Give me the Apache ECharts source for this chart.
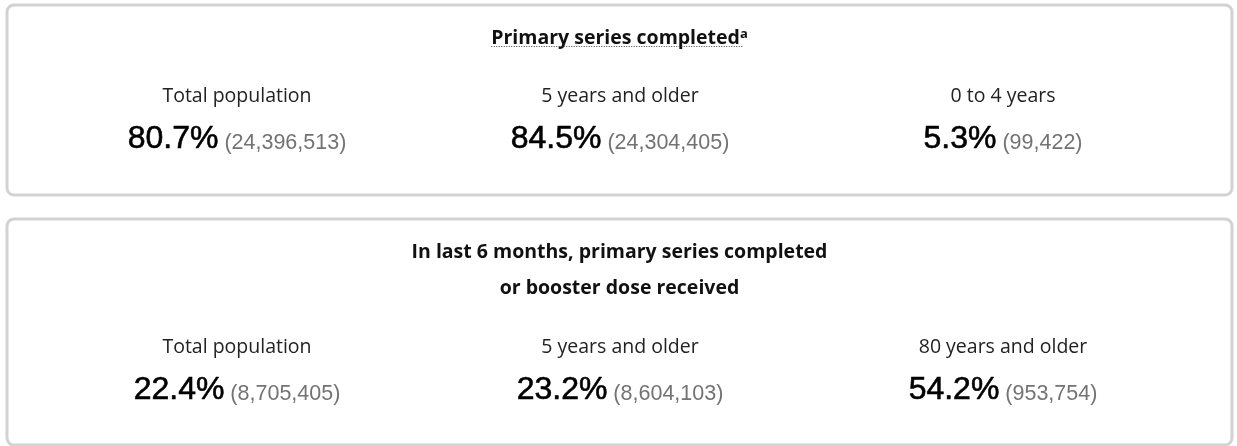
<!DOCTYPE html>
<html lang="en">
<head>
    <meta charset="UTF-8">
    <title>Vaccination summary</title>
    <style>
        * { margin: 0; padding: 0; }
        body { background: #fff; }
        #main { width: 1237px; height: 446px; }
    </style>
    <script src="https://cdn.jsdelivr.net/npm/echarts@6/dist/echarts.min.js"></script>
</head>
<body>
<div id="main"></div>
<script>
    // card headings
    var cardTitles = [
        ['Primary series completed'],
        ['In last 6 months, primary series completed', 'or booster dose received']
    ];
    var cardNotes = ['a', ''];
    // group labels per card
    var groupLabels = [
        ['Total population', '5 years and older', '0 to 4 years'],
        ['Total population', '5 years and older', '80 years and older']
    ];
    var percents = [
        [80.7, 84.5, 5.3],
        [22.4, 23.2, 54.2]
    ];
    var counts = [
        [24396513, 24304405, 99422],
        [8705405, 8604103, 953754]
    ];

    var myChart = echarts.init(document.getElementById('main'));

    var measure = document.createElement('canvas').getContext('2d');
    function textWidth(str, font) {
        measure.font = font;
        return measure.measureText(str).width;
    }
    function fmt(n) {
        return String(n).replace(/\B(?=(\d{3})+(?!\d))/g, ',');
    }

    var cardLeft = 7, cardRight = 1232;
    var cards = [
        { top: 5, bottom: 195, titleY: [38], labelY: 96, valueY: 139 },
        { top: 219, bottom: 445, titleY: [252, 288], labelY: 347, valueY: 390 }
    ];
    var colX = [237, 620, 1003];
    var midX = (cardLeft + cardRight) / 2;
    var titleSize = 19.5, noteSize = 13;

    var elements = [];
    cards.forEach(function (card, i) {
        elements.push({
            type: 'rect',
            shape: { x: cardLeft, y: card.top, width: cardRight - cardLeft, height: card.bottom - card.top, r: 7 },
            style: { fill: '#fff', stroke: '#d2d2d2', lineWidth: 3 }
        });
        cardTitles[i].forEach(function (line, j) {
            var w = textWidth(line, 'bold ' + titleSize + 'px "Open Sans"');
            var noteW = cardNotes[i] ? textWidth(cardNotes[i], 'bold ' + noteSize + 'px "Open Sans"') : 0;
            var x0 = midX - (w + noteW) / 2;
            elements.push({
                type: 'text',
                x: x0,
                y: card.titleY[j],
                style: {
                    text: cardNotes[i] ? '{t|' + line + '}{s|' + cardNotes[i] + '}' : '{t|' + line + '}',
                    align: 'left',
                    verticalAlign: 'middle',
                    rich: {
                        t: { fontFamily: 'Open Sans', fontWeight: 'bold', fontSize: titleSize, fill: '#111' },
                        s: { fontFamily: 'Open Sans', fontWeight: 'bold', fontSize: noteSize, fill: '#111', verticalAlign: 'top' }
                    }
                }
            });
            if (cardNotes[i]) {
                elements.push({
                    type: 'line',
                    shape: { x1: x0, y1: card.titleY[j] + 8.5, x2: x0 + w + 3, y2: card.titleY[j] + 8.5 },
                    style: { stroke: '#444', lineWidth: 1, lineDash: [1, 1.5] }
                });
            }
        });
        groupLabels[i].forEach(function (label, k) {
            elements.push({
                type: 'text',
                x: colX[k],
                y: card.labelY,
                style: {
                    text: label,
                    align: 'center',
                    verticalAlign: 'middle',
                    fontFamily: 'Open Sans',
                    fontSize: 19.5,
                    fill: '#222'
                }
            });
            elements.push({
                type: 'text',
                x: colX[k],
                y: card.valueY,
                style: {
                    text: '{p|' + percents[i][k].toFixed(1) + '%}{g| (' + fmt(counts[i][k]) + ')}',
                    align: 'center',
                    verticalAlign: 'middle',
                    rich: {
                        p: { fontFamily: 'Liberation Sans', fontSize: 32, fill: '#000', stroke: '#000', lineWidth: 0.6, verticalAlign: 'bottom' },
                        g: { fontFamily: 'Liberation Sans', fontSize: 21.5, fill: '#737373', verticalAlign: 'bottom', padding: [0, 0, 1, 0] }
                    }
                }
            });
        });
    });

    myChart.setOption({
        animation: false,
        graphic: { elements: elements }
    });
</script>
</body>
</html>
